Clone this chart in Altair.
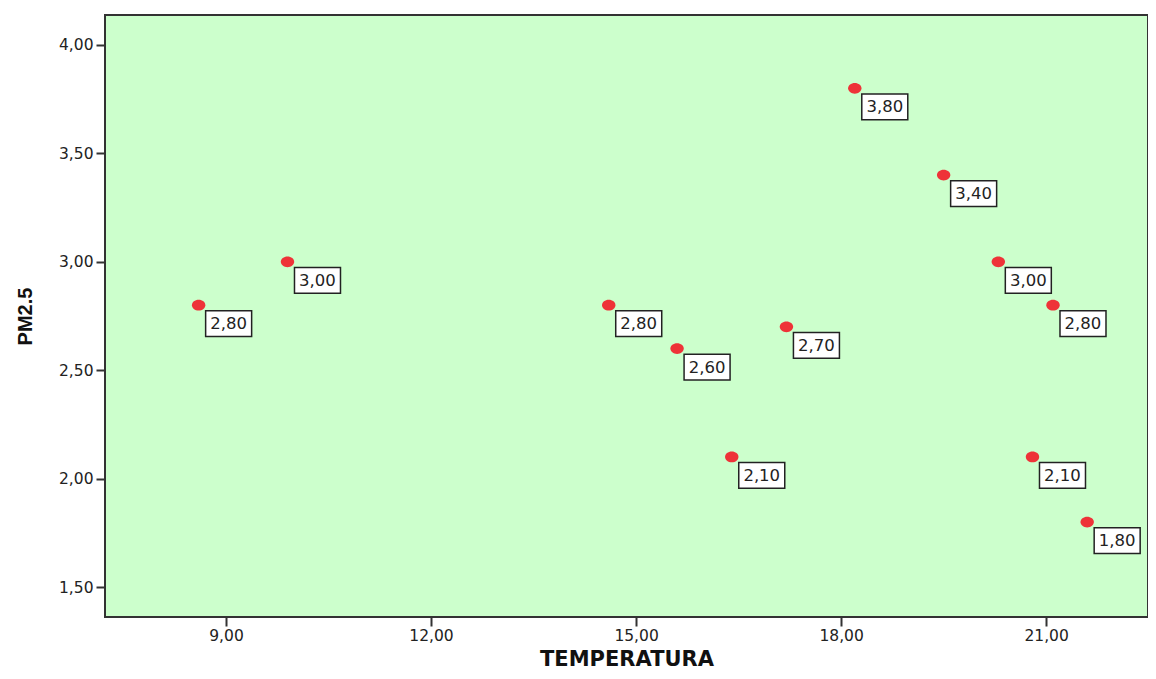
import altair as alt
import pandas as pd

temperatura = [8.6, 9.9, 14.6, 15.6, 16.4, 17.2, 18.2, 19.5, 20.3, 20.8, 21.1, 21.6]
pm25 = [2.8, 3.0, 2.8, 2.6, 2.1, 2.7, 3.8, 3.4, 3.0, 2.1, 2.8, 1.8]
labels = ["2,80", "3,00", "2,80", "2,60", "2,10", "2,70", "3,80", "3,40", "3,00", "2,10", "2,80", "1,80"]

x_ticks = [9, 12, 15, 18, 21]
y_ticks = [1.5, 2.0, 2.5, 3.0, 3.5, 4.0]

df = pd.DataFrame({"temp": temperatura, "pm25": pm25, "label": labels})

FONT = "DejaVu Sans"
fmt = "replace(format(datum.value, '.2f'), '.', ',')"

x = alt.X("temp:Q",
          scale=alt.Scale(domain=[7.23, 22.49], nice=False, zero=False),
          axis=alt.Axis(values=x_ticks, labelExpr=fmt, grid=False, domain=False,
                        tickSize=9, tickColor="#333333", tickWidth=2,
                        labelFont=FONT, labelFontSize=15.5, labelColor="#222222", labelPadding=2,
                        title="TEMPERATURA", titleFont="DejaVu Sans", titleFontSize=21, titleFontWeight="bold",
                        titleColor="#111111", titlePadding=5))
y = alt.Y("pm25:Q",
          scale=alt.Scale(domain=[1.362, 4.138], nice=False, zero=False),
          axis=alt.Axis(values=y_ticks, labelExpr=fmt, grid=False, domain=False,
                        tickSize=9, tickColor="#333333", tickWidth=2,
                        labelFont=FONT, labelFontSize=15.5, labelColor="#222222", labelPadding=3,
                        title="PM2.5", titleFont="Liberation Sans", titleFontSize=20, titleFontWeight="bold",
                        titleColor="#111111", titlePadding=23))

base = alt.Chart(df)

dots = base.mark_point(
    shape="M-1,0A1,0.8 0 1,0 1,0A1,0.8 0 1,0 -1,0Z", size=180, filled=True,
    color="#EE3338", opacity=1, strokeWidth=0
).encode(x=x, y=y)

boxes = base.mark_point(
    shape="M-1,-0.56H1V0.56H-1Z", size=2116, filled=False,
    fill="white", fillOpacity=1, stroke="#222222", strokeWidth=1.5, opacity=1,
    xOffset=30, yOffset=18.5
).encode(x=x, y=y)

texts = base.mark_text(
    font=FONT, fontSize=16.5, color="#222222", xOffset=30, yOffset=19, baseline="middle", align="center"
).encode(x=x, y=y, text="label:N")

chart = alt.layer(dots, boxes, texts).properties(
    width=1043, height=602,
    autosize=alt.AutoSizeParams(type="none"),
    padding={"left": 97, "top": 7, "right": 0, "bottom": 54},
    background="white",
).configure_view(fill="#CCFFCC", stroke="#333333", strokeWidth=2)

chart.save("out.html", embed_options={"renderer": "svg", "actions": False})
